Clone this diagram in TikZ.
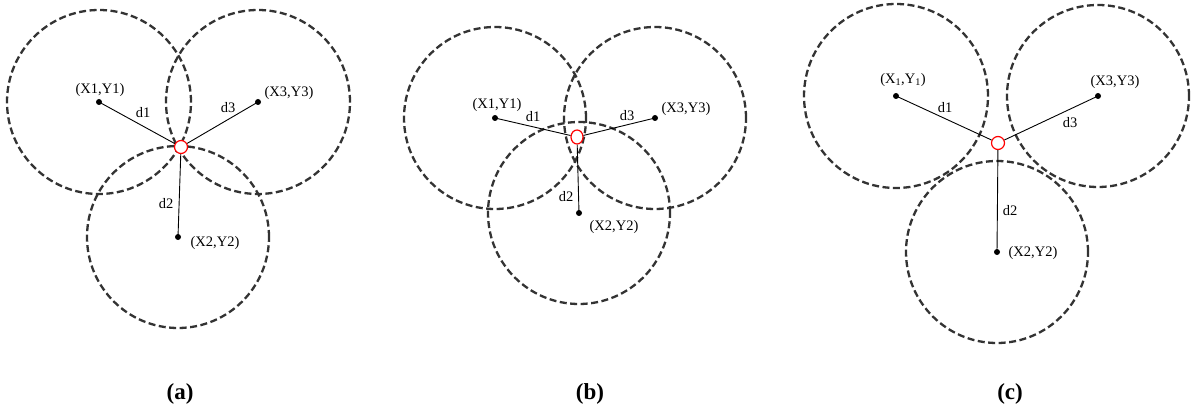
\documentclass[tikz,border=0pt]{standalone}
\usepackage{fontspec}
\setmainfont{Liberation Serif}
\usetikzlibrary{shapes.geometric}
\begin{document}
\begin{tikzpicture}[x=1pt,y=-1pt,
  rng/.style={draw=black!80, line width=2.3pt, dash pattern=on 7pt off 3.5pt},
  anchorpt/.style={circle, fill=black, inner sep=0pt, minimum size=6pt},
  target/.style={circle, draw=red, line width=1.2pt, fill=white, inner sep=0pt, minimum size=13pt},
  dist/.style={draw=black, line width=0.9pt},
  lbl/.style={inner sep=0pt, font=\fontsize{14.5}{16}\selectfont},
  captxt/.style={inner sep=0pt, font=\fontsize{23}{26}\selectfont\bfseries}]
\useasboundingbox (0,0) rectangle (1191,414);
\fill[white] (0,0) rectangle (1191,414);
% ---------- (a)
\coordinate (a1) at (99,102);
\coordinate (a3) at (258,102);
\coordinate (a2) at (178,237);
\draw[rng] (a1) circle[radius=92pt];
\draw[rng] (a3) circle[radius=92pt];
\draw[rng] (a2) circle[radius=91pt];
\node[target] (at) at (181,147) {};
\node[anchorpt] (ap1) at (a1) {};
\node[anchorpt] (ap3) at (a3) {};
\node[anchorpt] (ap2) at (a2) {};
\draw[dist] (ap1.center) -- (at);
\draw[dist] (ap3.center) -- (at);
\draw[dist] (ap2.center) -- (at);
\node[lbl] (ax1) at (100,90) {(X1,Y1)};
\node[lbl] (ad1) at (143,113) {d1};
\node[lbl] (ad3) at (228,108) {d3};
\node[lbl] (ax3) at (289,93) {(X3,Y3)};
\node[lbl] (ad2) at (166,204) {d2};
\node[lbl] (ax2) at (215,243) {(X2,Y2)};
\node[captxt] (capa) at (180,394) {(a)};
% ---------- (b)
\coordinate (b1) at (495,118);
\coordinate (b3) at (655,118);
\coordinate (b2) at (579,213);
\draw[rng] (b1) circle[radius=91pt];
\draw[rng] (b3) circle[radius=91pt];
\draw[rng] (b2) circle[radius=91pt];
\node[target, ellipse, minimum width=12pt, minimum height=14pt] (bt) at (577,137) {};
\node[anchorpt] (bp1) at (b1) {};
\node[anchorpt] (bp3) at (b3) {};
\node[anchorpt] (bp2) at (b2) {};
\draw[dist] (bp1.center) -- (bt);
\draw[dist] (bp3.center) -- (bt);
\draw[dist] (bp2.center) -- (bt);
\node[lbl] (bx1) at (497,105) {(X1,Y1)};
\node[lbl] (bd1) at (533,117) {d1};
\node[lbl] (bd3) at (627,116) {d3};
\node[lbl] (bx3) at (686,109) {(X3,Y3)};
\node[lbl] (bd2) at (566,197) {d2};
\node[lbl] (bx2) at (614,227) {(X2,Y2)};
\node[captxt] (capb) at (590,394) {(b)};
% ---------- (c)
\coordinate (c1) at (896,96);
\coordinate (c3) at (1098,96);
\coordinate (c2) at (997,252);
\draw[rng] (c1) circle[radius=92pt];
\draw[rng] (c3) circle[radius=91pt];
\draw[rng] (c2) circle[radius=91pt];
\node[target] (ct) at (998,143) {};
\node[anchorpt] (cp1) at (c1) {};
\node[anchorpt] (cp3) at (c3) {};
\node[anchorpt] (cp2) at (c2) {};
\draw[dist] (cp1.center) -- (ct);
\draw[dist] (cp3.center) -- (ct);
\draw[dist] (cp2.center) -- (ct);
\node[lbl] (cx1) at (903,80) {(X\textsubscript{1},Y\textsubscript{1})};
\node[lbl] (cd1) at (945,108) {d1};
\node[lbl] (cd3) at (1070,123) {d3};
\node[lbl] (cx3) at (1115,82) {(X3,Y3)};
\node[lbl] (cd2) at (1010,211) {d2};
\node[lbl] (cx2) at (1033,253) {(X2,Y2)};
\node[captxt] (capc) at (1010,394) {(c)};
\end{tikzpicture}
\end{document}
